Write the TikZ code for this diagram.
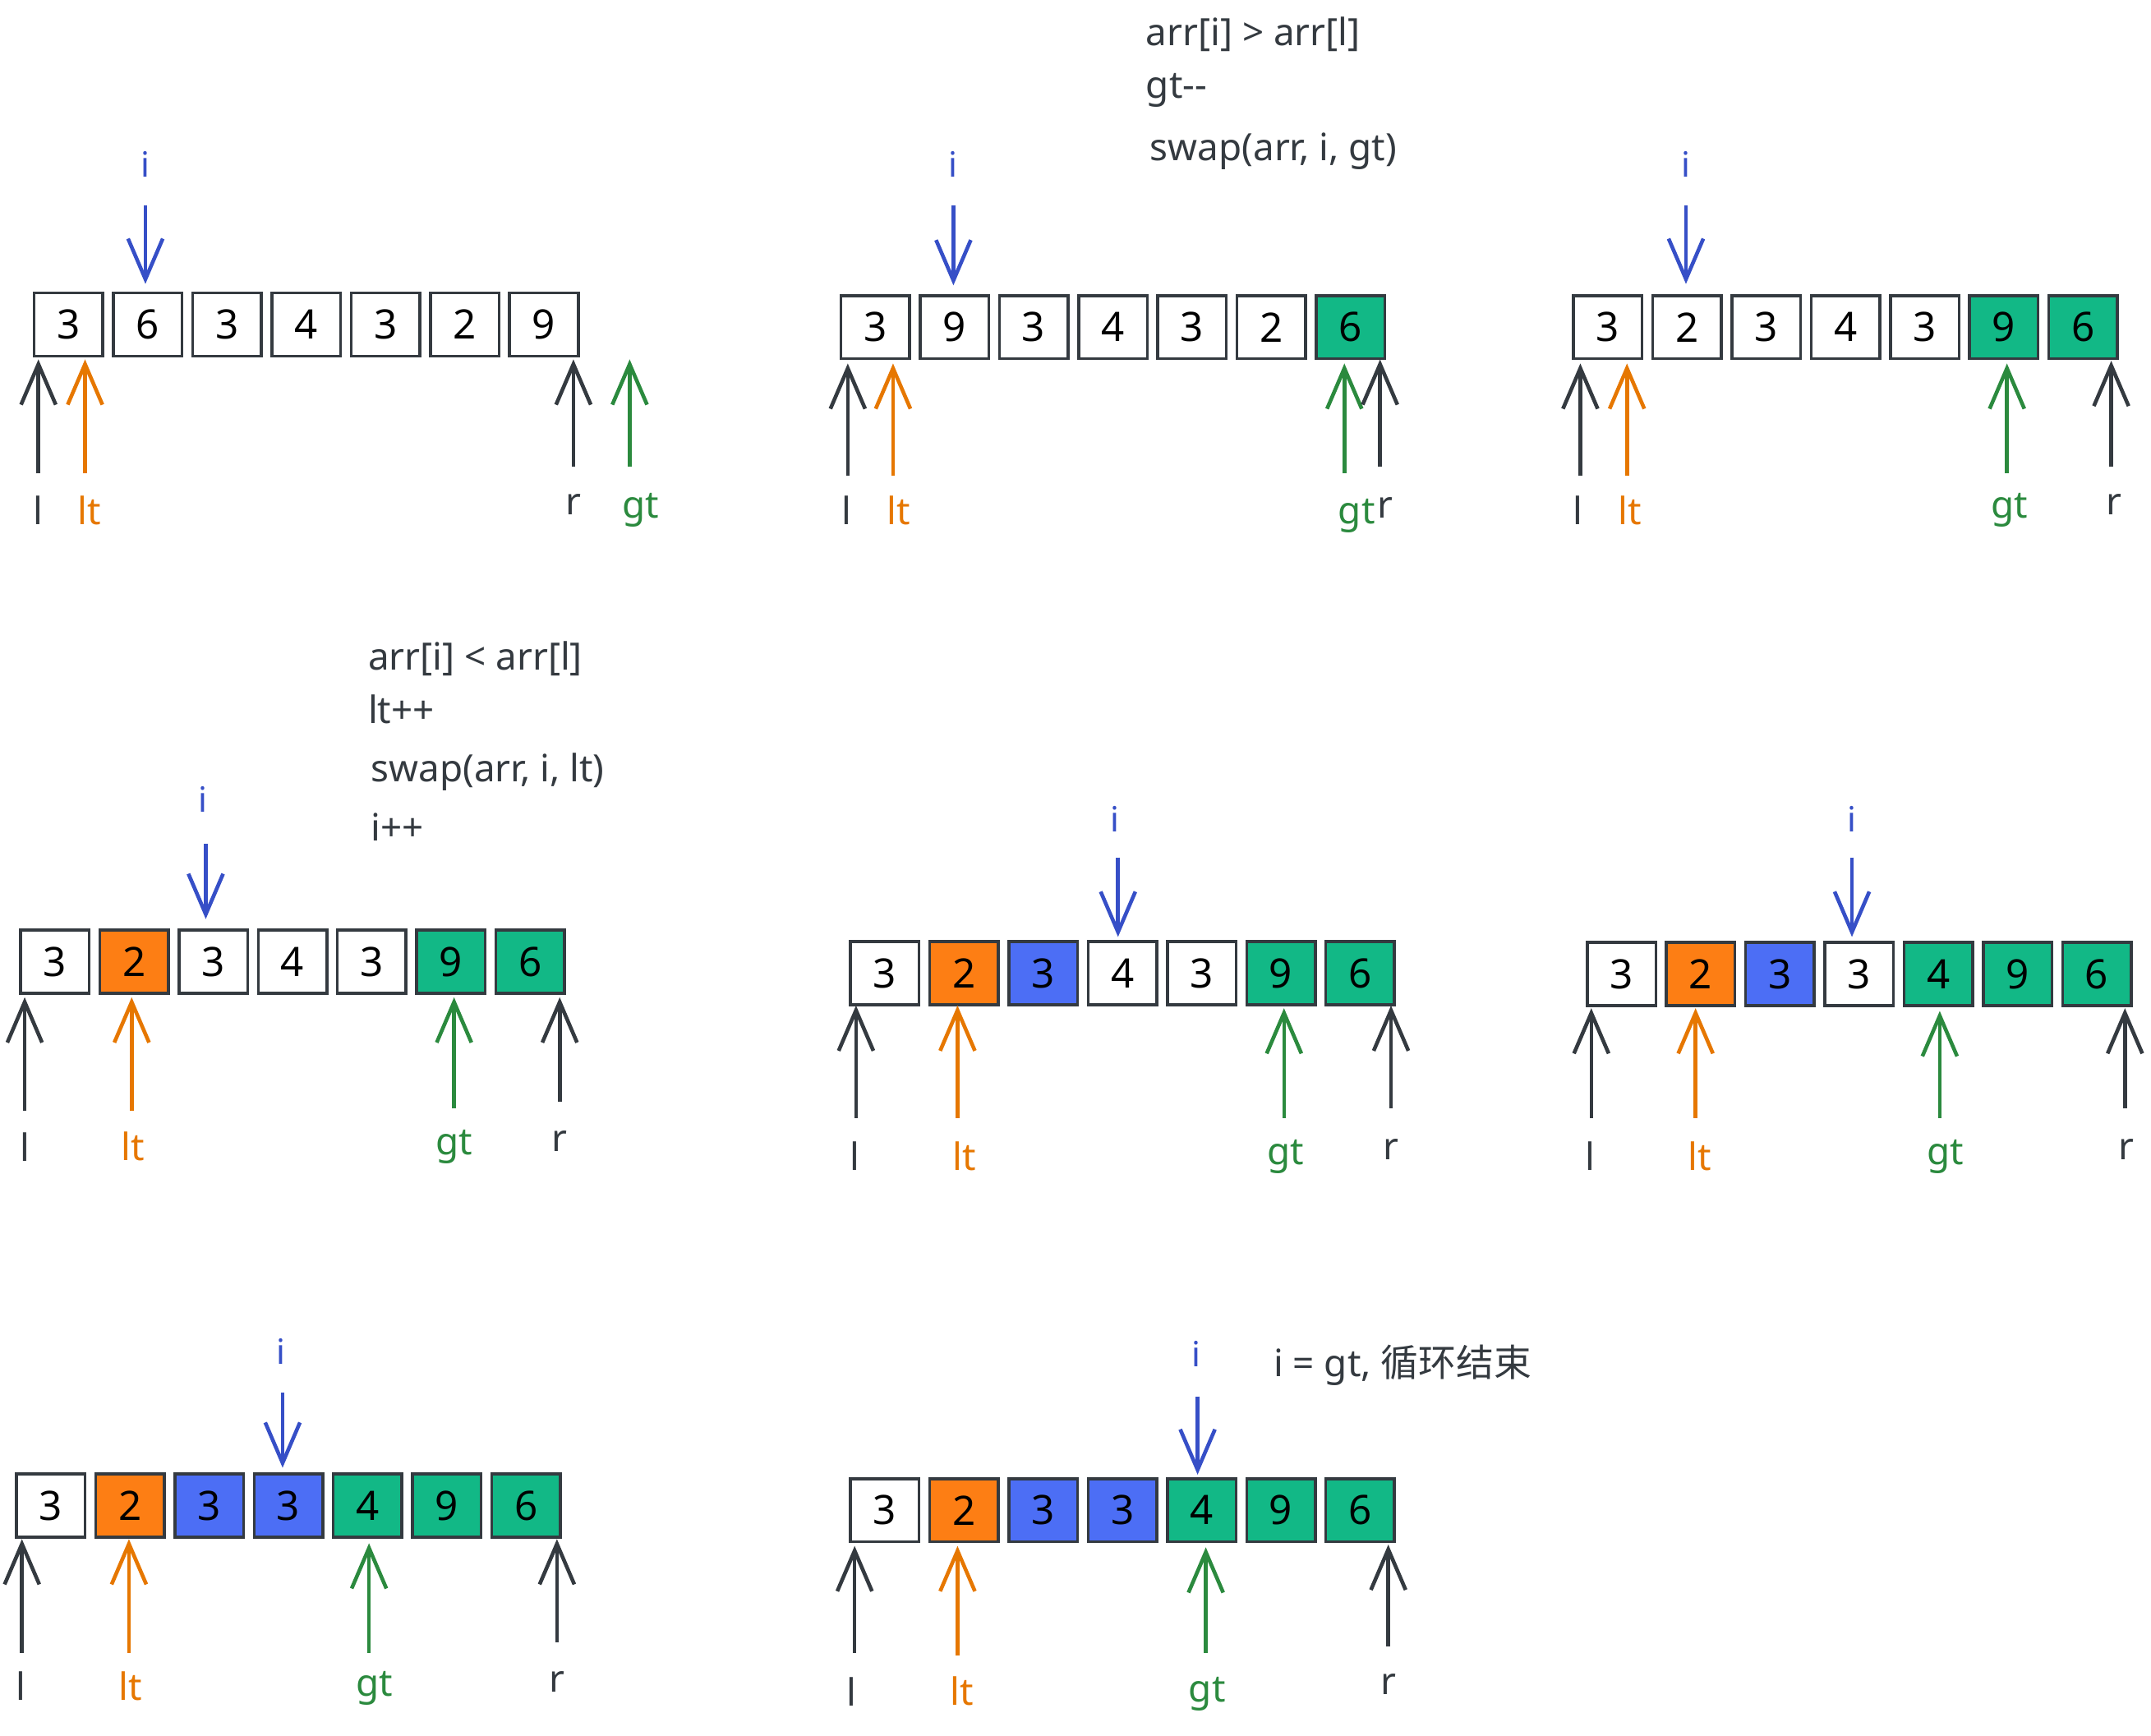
\documentclass[tikz,border=0pt]{standalone}
\usepackage{fontspec}
\setmainfont{Noto Sans}
\newfontfamily\cjk{Noto Sans CJK SC}
\usetikzlibrary{arrows.meta}
\definecolor{ink}{HTML}{343A40}
\definecolor{iblue}{HTML}{364FC7}
\definecolor{ltorange}{HTML}{E67700}
\definecolor{gtgreen}{HTML}{2B8A3E}
\definecolor{fgreen}{HTML}{12B886}
\definecolor{forange}{HTML}{FD7E14}
\definecolor{fblue}{HTML}{4C6EF5}
\tikzset{
  cell/.style={draw=ink, line width=1pt, minimum width=0.8335cm, minimum height=0.767cm,
    inner sep=0pt, font=\fontsize{14}{16}\selectfont, text=black},
  ptr/.style={line width=1.3pt, -{Straight Barb[length=14pt,width=12pt,line width=1.3pt]}},
  lab/.style={font=\fontsize{13}{15}\selectfont, inner sep=0pt},
  ilab/.style={font=\fontsize{12}{14}\selectfont, inner sep=0pt, text=iblue},
  note/.style={font=\fontsize{13}{15}\selectfont, text=ink, anchor=west, inner sep=0pt}
}
% #1 name, #2 x of first centre, #3 y centre, #4 list value/fill
\newcommand\cellrow[4]{%
  \foreach \v/\f [count=\k] in {#4} {
    \node[cell, fill=\f] (#1c\k) at ({#2+(\k-1)*57.75}, #3) {\v};
  }}
% #1 name, #2 colour, #3 x, #4 tail y, #5 head y
\newcommand\ptrarrow[5]{%
  \coordinate (#1t) at (#3,#4); \coordinate (#1h) at (#3,#5);
  \draw[ptr, draw=#2] (#1t) -- (#1h);}
\begin{document}
\begin{tikzpicture}[x=0.01667cm, y=-0.01667cm]
\useasboundingbox[fill=white] (0,0) rectangle (1568,1265);

% ---------- Panel 1 ----------
\cellrow{a}{50}{236.5}{3/white,6/white,3/white,4/white,3/white,2/white,9/white}
\node[ilab] (ai) at (106,120) {i};
\ptrarrow{aia}{iblue}{106}{150}{207}
\ptrarrow{ala}{ink}{28}{345}{262}
\node[lab, text=ink] (al) at (28,372) {l};
\ptrarrow{alta}{ltorange}{62}{345}{262}
\node[lab, text=ltorange] (alt) at (65,372) {lt};
\ptrarrow{ara}{ink}{418}{340}{262}
\node[lab, text=ink] (ar) at (418,368) {r};
\ptrarrow{agta}{gtgreen}{459}{340}{262}
\node[lab, text=gtgreen] (agt) at (467,372) {gt};

% ---------- Panel 2 ----------
\node[note] (bn1) at (835,25) {arr[i] > arr[l]};
\node[note] (bn2) at (835,66) {gt{-}{-}};
\node[note] (bn3) at (838,110) {swap(arr, i, gt)};
\cellrow{b}{638}{238.5}{3/white,9/white,3/white,4/white,3/white,2/white,6/fgreen}
\node[ilab] (bi) at (695,120) {i};
\ptrarrow{bia}{iblue}{695}{150}{208}
\ptrarrow{bla}{ink}{618}{347}{265}
\node[lab, text=ink] (bl) at (617,372) {l};
\ptrarrow{blta}{ltorange}{651}{347}{265}
\node[lab, text=ltorange] (blt) at (655,372) {lt};
\ptrarrow{bgta}{gtgreen}{980}{345}{265}
\node[lab, text=gtgreen] (bgt) at (989,376) {gt};
\ptrarrow{bra}{ink}{1006}{340}{262}
\node[lab, text=ink] (br) at (1010,370) {r};

% ---------- Panel 3 ----------
\cellrow{c}{1172}{238.5}{3/white,2/white,3/white,4/white,3/white,9/fgreen,6/fgreen}
\node[ilab] (ci) at (1229,120) {i};
\ptrarrow{cia}{iblue}{1229}{150}{207}
\ptrarrow{cla}{ink}{1152}{347}{265}
\node[lab, text=ink] (cl) at (1150,372) {l};
\ptrarrow{clta}{ltorange}{1186}{347}{265}
\node[lab, text=ltorange] (clt) at (1188,372) {lt};
\ptrarrow{cgta}{gtgreen}{1463}{345}{265}
\node[lab, text=gtgreen] (cgt) at (1465,372) {gt};
\ptrarrow{cra}{ink}{1539}{340}{263}
\node[lab, text=ink] (cr) at (1541,368) {r};

% ---------- Panel 4 ----------
\node[note] (dn1) at (268,480) {arr[i] < arr[l]};
\node[note] (dn2) at (268,517) {lt++};
\node[note] (dn3) at (270,563) {swap(arr, i, lt)};
\node[note] (dn4) at (270,603) {i++};
\cellrow{d}{40}{701}{3/white,2/forange,3/white,4/white,3/white,9/fgreen,6/fgreen}
\node[ilab] (di) at (148,583) {i};
\ptrarrow{dia}{iblue}{150}{615}{670}
\ptrarrow{dla}{ink}{18}{810}{727}
\node[lab, text=ink] (dl) at (18,836) {l};
\ptrarrow{dlta}{ltorange}{96}{810}{727}
\node[lab, text=ltorange] (dlt) at (97,836) {lt};
\ptrarrow{dgta}{gtgreen}{331}{808}{727}
\node[lab, text=gtgreen] (dgt) at (331,836) {gt};
\ptrarrow{dra}{ink}{408}{803}{727}
\node[lab, text=ink] (dr) at (408,832) {r};

% ---------- Panel 5 ----------
\cellrow{e}{645}{709.5}{3/white,2/forange,3/fblue,4/white,3/white,9/fgreen,6/fgreen}
\node[ilab] (ei) at (813,597) {i};
\ptrarrow{eia}{iblue}{815}{625}{683}
\ptrarrow{ela}{ink}{624}{815}{733}
\node[lab, text=ink] (el) at (623,843) {l};
\ptrarrow{elta}{ltorange}{698}{815}{733}
\node[lab, text=ltorange] (elt) at (703,843) {lt};
\ptrarrow{egta}{gtgreen}{936}{815}{735}
\node[lab, text=gtgreen] (egt) at (937,843) {gt};
\ptrarrow{era}{ink}{1014}{808}{733}
\node[lab, text=ink] (er) at (1014,838) {r};

% ---------- Panel 6 ----------
\cellrow{f}{1182}{710}{3/white,2/forange,3/fblue,3/white,4/fgreen,9/fgreen,6/fgreen}
\node[ilab] (fi) at (1350,597) {i};
\ptrarrow{fia}{iblue}{1350}{625}{683}
\ptrarrow{fla}{ink}{1160}{815}{735}
\node[lab, text=ink] (fl) at (1159,843) {l};
\ptrarrow{flta}{ltorange}{1236}{815}{735}
\node[lab, text=ltorange] (flt) at (1239,843) {lt};
\ptrarrow{fgta}{gtgreen}{1414}{815}{737}
\node[lab, text=gtgreen] (fgt) at (1418,843) {gt};
\ptrarrow{fra}{ink}{1549}{808}{735}
\node[lab, text=ink] (fr) at (1550,838) {r};

% ---------- Panel 7 ----------
\cellrow{g}{37}{1097.5}{3/white,2/forange,3/fblue,3/fblue,4/fgreen,9/fgreen,6/fgreen}
\node[ilab] (gi) at (205,985) {i};
\ptrarrow{gia}{iblue}{206}{1015}{1070}
\ptrarrow{gla}{ink}{16}{1205}{1122}
\node[lab, text=ink] (gl) at (15,1229) {l};
\ptrarrow{glta}{ltorange}{94}{1205}{1122}
\node[lab, text=ltorange] (glt) at (95,1229) {lt};
\ptrarrow{ggta}{gtgreen}{269}{1205}{1125}
\node[lab, text=gtgreen] (ggt) at (273,1231) {gt};
\ptrarrow{gra}{ink}{406}{1197}{1122}
\node[lab, text=ink] (gr) at (406,1226) {r};

% ---------- Panel 8 ----------
\node[note] (hn1) at (928,995) {i = gt, {\cjk 循环结束}};
\cellrow{h}{645}{1101}{3/white,2/forange,3/fblue,3/fblue,4/fgreen,9/fgreen,6/fgreen}
\node[ilab] (hi) at (872,987) {i};
\ptrarrow{hia}{iblue}{873}{1018}{1075}
\ptrarrow{hla}{ink}{623}{1205}{1127}
\node[lab, text=ink] (hl) at (621,1233) {l};
\ptrarrow{hlta}{ltorange}{698}{1207}{1127}
\node[lab, text=ltorange] (hlt) at (701,1233) {lt};
\ptrarrow{hgta}{gtgreen}{879}{1205}{1128}
\node[lab, text=gtgreen] (hgt) at (880,1235) {gt};
\ptrarrow{hra}{ink}{1012}{1200}{1126}
\node[lab, text=ink] (hr) at (1012,1228) {r};
\end{tikzpicture}
\end{document}
